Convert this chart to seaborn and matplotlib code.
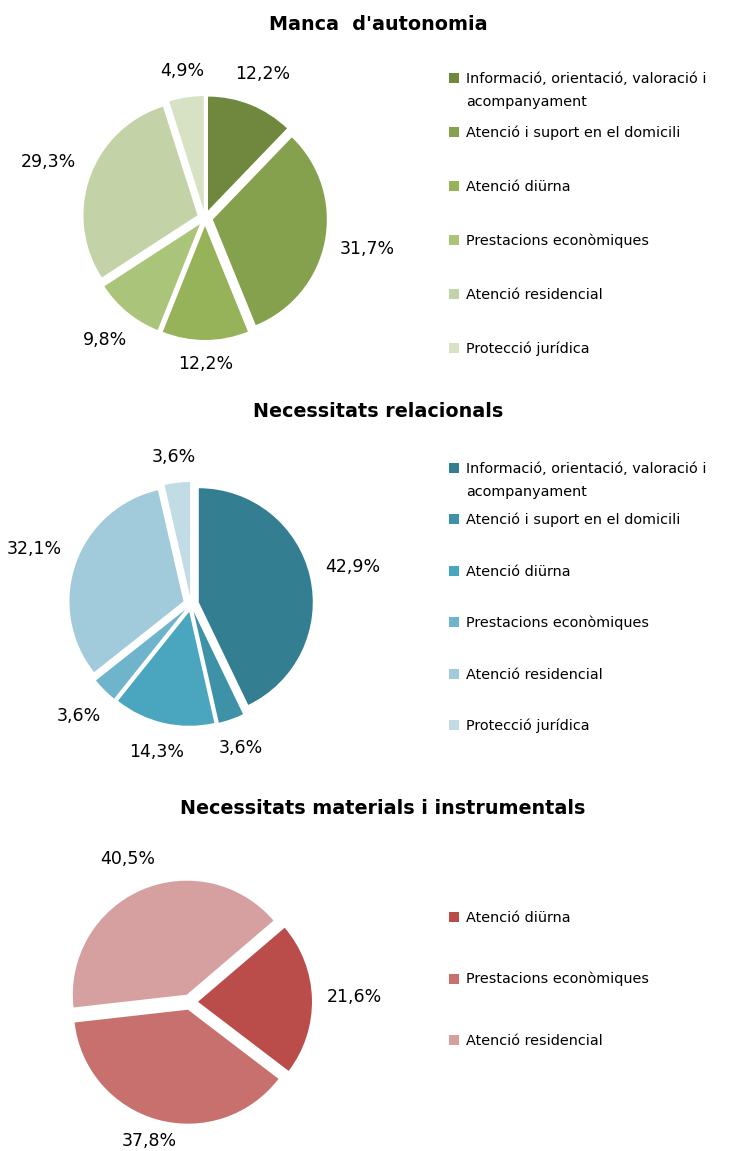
import matplotlib
matplotlib.use("Agg")
import matplotlib.pyplot as plt
from matplotlib.patches import Rectangle
import numpy as np
import seaborn as sns

sns.set_theme(style="white")
plt.rcParams['font.family'] = ['DejaVu Sans']

# ---------------- data ----------------
titles = ["Manca  d'autonomia", "Necessitats relacionals",
          "Necessitats materials i instrumentals"]
cats_six = ["Informació, orientació, valoració i\nacompanyament",
            "Atenció i suport en el domicili",
            "Atenció diürna",
            "Prestacions econòmiques",
            "Atenció residencial",
            "Protecció jurídica"]
cats_three = ["Atenció diürna", "Prestacions econòmiques", "Atenció residencial"]

vals_autonomia = [12.2, 31.7, 12.2, 9.8, 29.3, 4.9]
vals_relacionals = [42.9, 3.6, 14.3, 3.6, 32.1, 3.6]
vals_materials = [21.6, 37.8, 40.5]

colors_green = ["#70883e", "#85a14e", "#96b35a", "#aac47a", "#c3d3a7", "#d7e1c4"]
colors_blue = ["#347e91", "#3d92a8", "#49a6be", "#6eb4cb", "#a1cada", "#c2dce6"]
colors_red = ["#ba4d4a", "#c8706e", "#d7a0a0"]

# ---------------- layout ----------------
W, H = 737, 1151
fig = plt.figure(figsize=(W / 100, H / 100), dpi=100)
fig.patch.set_facecolor("white")

S = 342          # axes size in px (limits +-1.5 -> 114 px per unit)
LIM = 1.5
R0 = 1.2

panels = [
    dict(title=titles[0], cats=cats_six, vals=vals_autonomia, colors=colors_green,
         center=(205, 218), start=90, title_y=25, leg_y0=78, leg_step=54, title_x=378),
    dict(title=titles[1], cats=cats_six, vals=vals_relacionals, colors=colors_blue,
         center=(191, 604), start=90, title_y=412, leg_y0=468, leg_step=51.4, title_x=378),
    dict(title=titles[2], cats=cats_three, vals=vals_materials, colors=colors_red,
         center=(190, 1002), start=40.5, title_y=808, leg_y0=917, leg_step=61.5, title_x=383),
]

label_fs = 12.5
legend_fs = 10.4
title_fs = 13.8

for p in panels:
    cx, cy = p["center"]
    ax = fig.add_axes([(cx - S / 2) / W, 1 - (cy + S / 2) / H, S / W, S / H])
    wedges, _ = ax.pie(p["vals"], colors=p["colors"], startangle=p["start"],
                       counterclock=False, explode=[0.07] * len(p["vals"]),
                       radius=1, wedgeprops=dict(linewidth=0))
    ax.set_xlim(-LIM, LIM)
    ax.set_ylim(-LIM, LIM)
    ax.axis("off")

    texts = []
    for w, v in zip(wedges, p["vals"]):
        t = ax.text(0, 0, f"{v:.1f}%".replace(".", ","), ha="center", va="center",
                    fontsize=label_fs, color="#000000")
        texts.append((w, t))
    fig.canvas.draw()
    px_per_unit = S / (2 * LIM)
    ymin_data = -(H - cy - 10) / px_per_unit   # keep labels inside the figure
    for w, t in texts:
        bb = t.get_window_extent()
        hw = bb.width / 2 / px_per_unit
        hh = bb.height / 2 / px_per_unit
        th = np.deg2rad((w.theta1 + w.theta2) / 2)
        d = R0 + hw * abs(np.cos(th)) + hh * abs(np.sin(th))
        x, y = d * np.cos(th), d * np.sin(th)
        y = max(y, ymin_data)
        t.set_position((x, y))

    # title
    fig.text(p["title_x"] / W, 1 - p["title_y"] / H, p["title"], ha="center",
             va="center", fontsize=title_fs, fontweight="bold", color="#000000")

    # legend
    for i, (lab, col) in enumerate(zip(p["cats"], p["colors"])):
        y = p["leg_y0"] + i * p["leg_step"]
        fig.add_artist(Rectangle((449 / W, 1 - (y + 5) / H), 10 / W, 10 / H,
                                 facecolor=col, edgecolor="none",
                                 transform=fig.transFigure))
        for j, line in enumerate(lab.split("\n")):
            fig.text(466 / W, 1 - (y + 5 + 23 * j) / H, line, ha="left",
                     va="baseline", fontsize=legend_fs, color="#000000")

fig.savefig("out.png", dpi=100, facecolor="white")
